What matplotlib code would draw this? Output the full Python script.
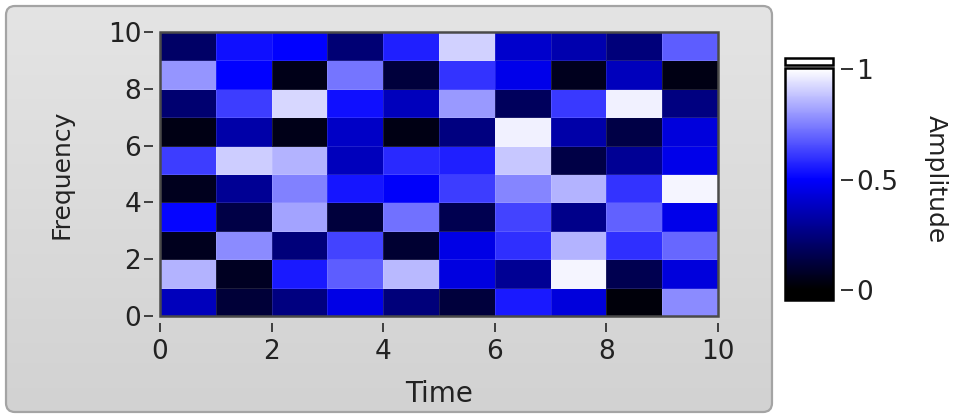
import numpy as np
import matplotlib
matplotlib.use("Agg")
import matplotlib.pyplot as plt
from matplotlib.colors import LinearSegmentedColormap
from matplotlib.patches import FancyBboxPatch, Rectangle

plt.rcParams['font.family'] = ['DejaVu Sans']

time_edges = np.arange(0, 11)
freq_edges = np.arange(0, 11)
x_ticks = [0, 2, 4, 6, 8, 10]
y_ticks = [0, 2, 4, 6, 8, 10]
cbar_ticks = [0, 0.5, 1]
cbar_labels = ["0", "0.5", "1"]

# rows from Frequency 0 (bottom) to 9 (top), columns Time 0..9
row0 = [0.37, 0.11, 0.25, 0.45, 0.24, 0.12, 0.55, 0.43, 0.02, 0.77]
row1 = [0.85, 0.07, 0.55, 0.68, 0.86, 0.44, 0.29, 0.98, 0.16, 0.43]
row2 = [0.06, 0.77, 0.24, 0.63, 0.10, 0.45, 0.59, 0.85, 0.59, 0.70]
row3 = [0.51, 0.14, 0.82, 0.12, 0.72, 0.16, 0.63, 0.27, 0.69, 0.46]
row4 = [0.06, 0.29, 0.75, 0.54, 0.49, 0.62, 0.76, 0.85, 0.60, 0.98]
row5 = [0.62, 0.90, 0.85, 0.37, 0.58, 0.56, 0.89, 0.14, 0.29, 0.46]
row6 = [0.04, 0.33, 0.05, 0.39, 0.04, 0.25, 0.97, 0.33, 0.14, 0.43]
row7 = [0.22, 0.62, 0.92, 0.53, 0.37, 0.80, 0.18, 0.61, 0.97, 0.25]
row8 = [0.79, 0.50, 0.05, 0.73, 0.12, 0.60, 0.46, 0.06, 0.37, 0.04]
row9 = [0.20, 0.53, 0.50, 0.23, 0.56, 0.91, 0.40, 0.34, 0.24, 0.68]
amplitude = np.array([row0, row1, row2, row3, row4, row5, row6, row7, row8, row9])

cmap = LinearSegmentedColormap.from_list(
    "lv", [(0.0, (0, 0, 0)), (0.5, (0, 0, 1)), (1.0, (1, 1, 1))])

W, H = 964, 417
fig = plt.figure(figsize=(W / 100, H / 100), dpi=100)
fig.patch.set_facecolor('white')

# grey rounded panel with soft vertical gradient
bg = fig.add_axes([0, 0, 1, 1], zorder=-10)
bg.set_xlim(0, W)
bg.set_ylim(0, H)
bg.axis('off')
panel = FancyBboxPatch((6, 5), 766, 406,
                       boxstyle="round,pad=0,rounding_size=9",
                       facecolor='none', edgecolor='#a4a4a4', linewidth=1.6,
                       zorder=3)
bg.add_patch(panel)
pgrad = np.linspace(0, 1, 100).reshape(-1, 1)
gcmap = LinearSegmentedColormap.from_list("g", ['#d2d2d2', '#e4e4e4'])
im = bg.imshow(pgrad, extent=[6, 772, 5, 411], origin='lower', cmap=gcmap,
               aspect='auto', zorder=1)
im.set_clip_path(panel)

# main intensity graph
ax = fig.add_axes([160 / W, 1 - 316 / H, 558 / W, 284 / H], zorder=2)
ax.pcolormesh(time_edges, freq_edges, amplitude, cmap=cmap, vmin=0, vmax=1,
              edgecolors=(1, 1, 1, 0.12), linewidth=0.6)
ax.set_xlim(0, 10)
ax.set_ylim(0, 10)
ax.set_xticks(x_ticks)
ax.set_yticks(y_ticks)
for side in ['left', 'bottom']:
    ax.spines[side].set_position(('outward', 5))
for s in ax.spines.values():
    s.set_visible(False)
ax.add_patch(Rectangle((0, 0), 1, 1, transform=ax.transAxes, fill=False,
                       edgecolor='#4a4a4a', linewidth=1.8, clip_on=False,
                       zorder=5))
ax.tick_params(axis='both', labelsize=19, length=6.5, width=1.3,
               color='#333333', labelcolor='#222222')
ax.tick_params(axis='x', pad=5)
ax.tick_params(axis='y', pad=2)
ax.set_xlabel("Time", fontsize=20, color='#222222', labelpad=11)
ax.set_ylabel("Frequency", fontsize=18, color='#222222', labelpad=25)

# colour scale
cax = fig.add_axes([785 / W, 1 - 300 / H, 48 / W, 242 / H], zorder=2)
lo, hi = -0.045, 1.05
gtop = 1.007
grad = np.linspace(lo, gtop, 256).reshape(-1, 1)
cax.imshow(grad, aspect='auto', cmap=cmap, vmin=0, vmax=1, origin='lower',
           extent=[0, 1, lo, gtop])
cax.add_patch(Rectangle((0, lo), 1, gtop - lo, fill=False, edgecolor='black',
                        linewidth=1.8, clip_on=False, zorder=5))
cax.add_patch(Rectangle((0, 1.02), 1, hi - 1.02, facecolor='white',
                        edgecolor='black', linewidth=1.8, clip_on=False,
                        zorder=5))
cax.set_xlim(0, 1)
cax.set_ylim(lo, hi)
cax.set_xticks([])
cax.yaxis.tick_right()
cax.spines['right'].set_position(('outward', 6))
for s in cax.spines.values():
    s.set_visible(False)
cax.set_yticks(cbar_ticks)
cax.set_yticklabels(cbar_labels)
cax.tick_params(axis='y', labelsize=19, length=8.5, width=1.3,
                color='#222222', labelcolor='#222222', pad=2)
cax.yaxis.set_label_position('right')
cax.set_ylabel("Amplitude", fontsize=18, rotation=-90, color='#222222',
               labelpad=36)

fig.savefig("out.png", dpi=100)
